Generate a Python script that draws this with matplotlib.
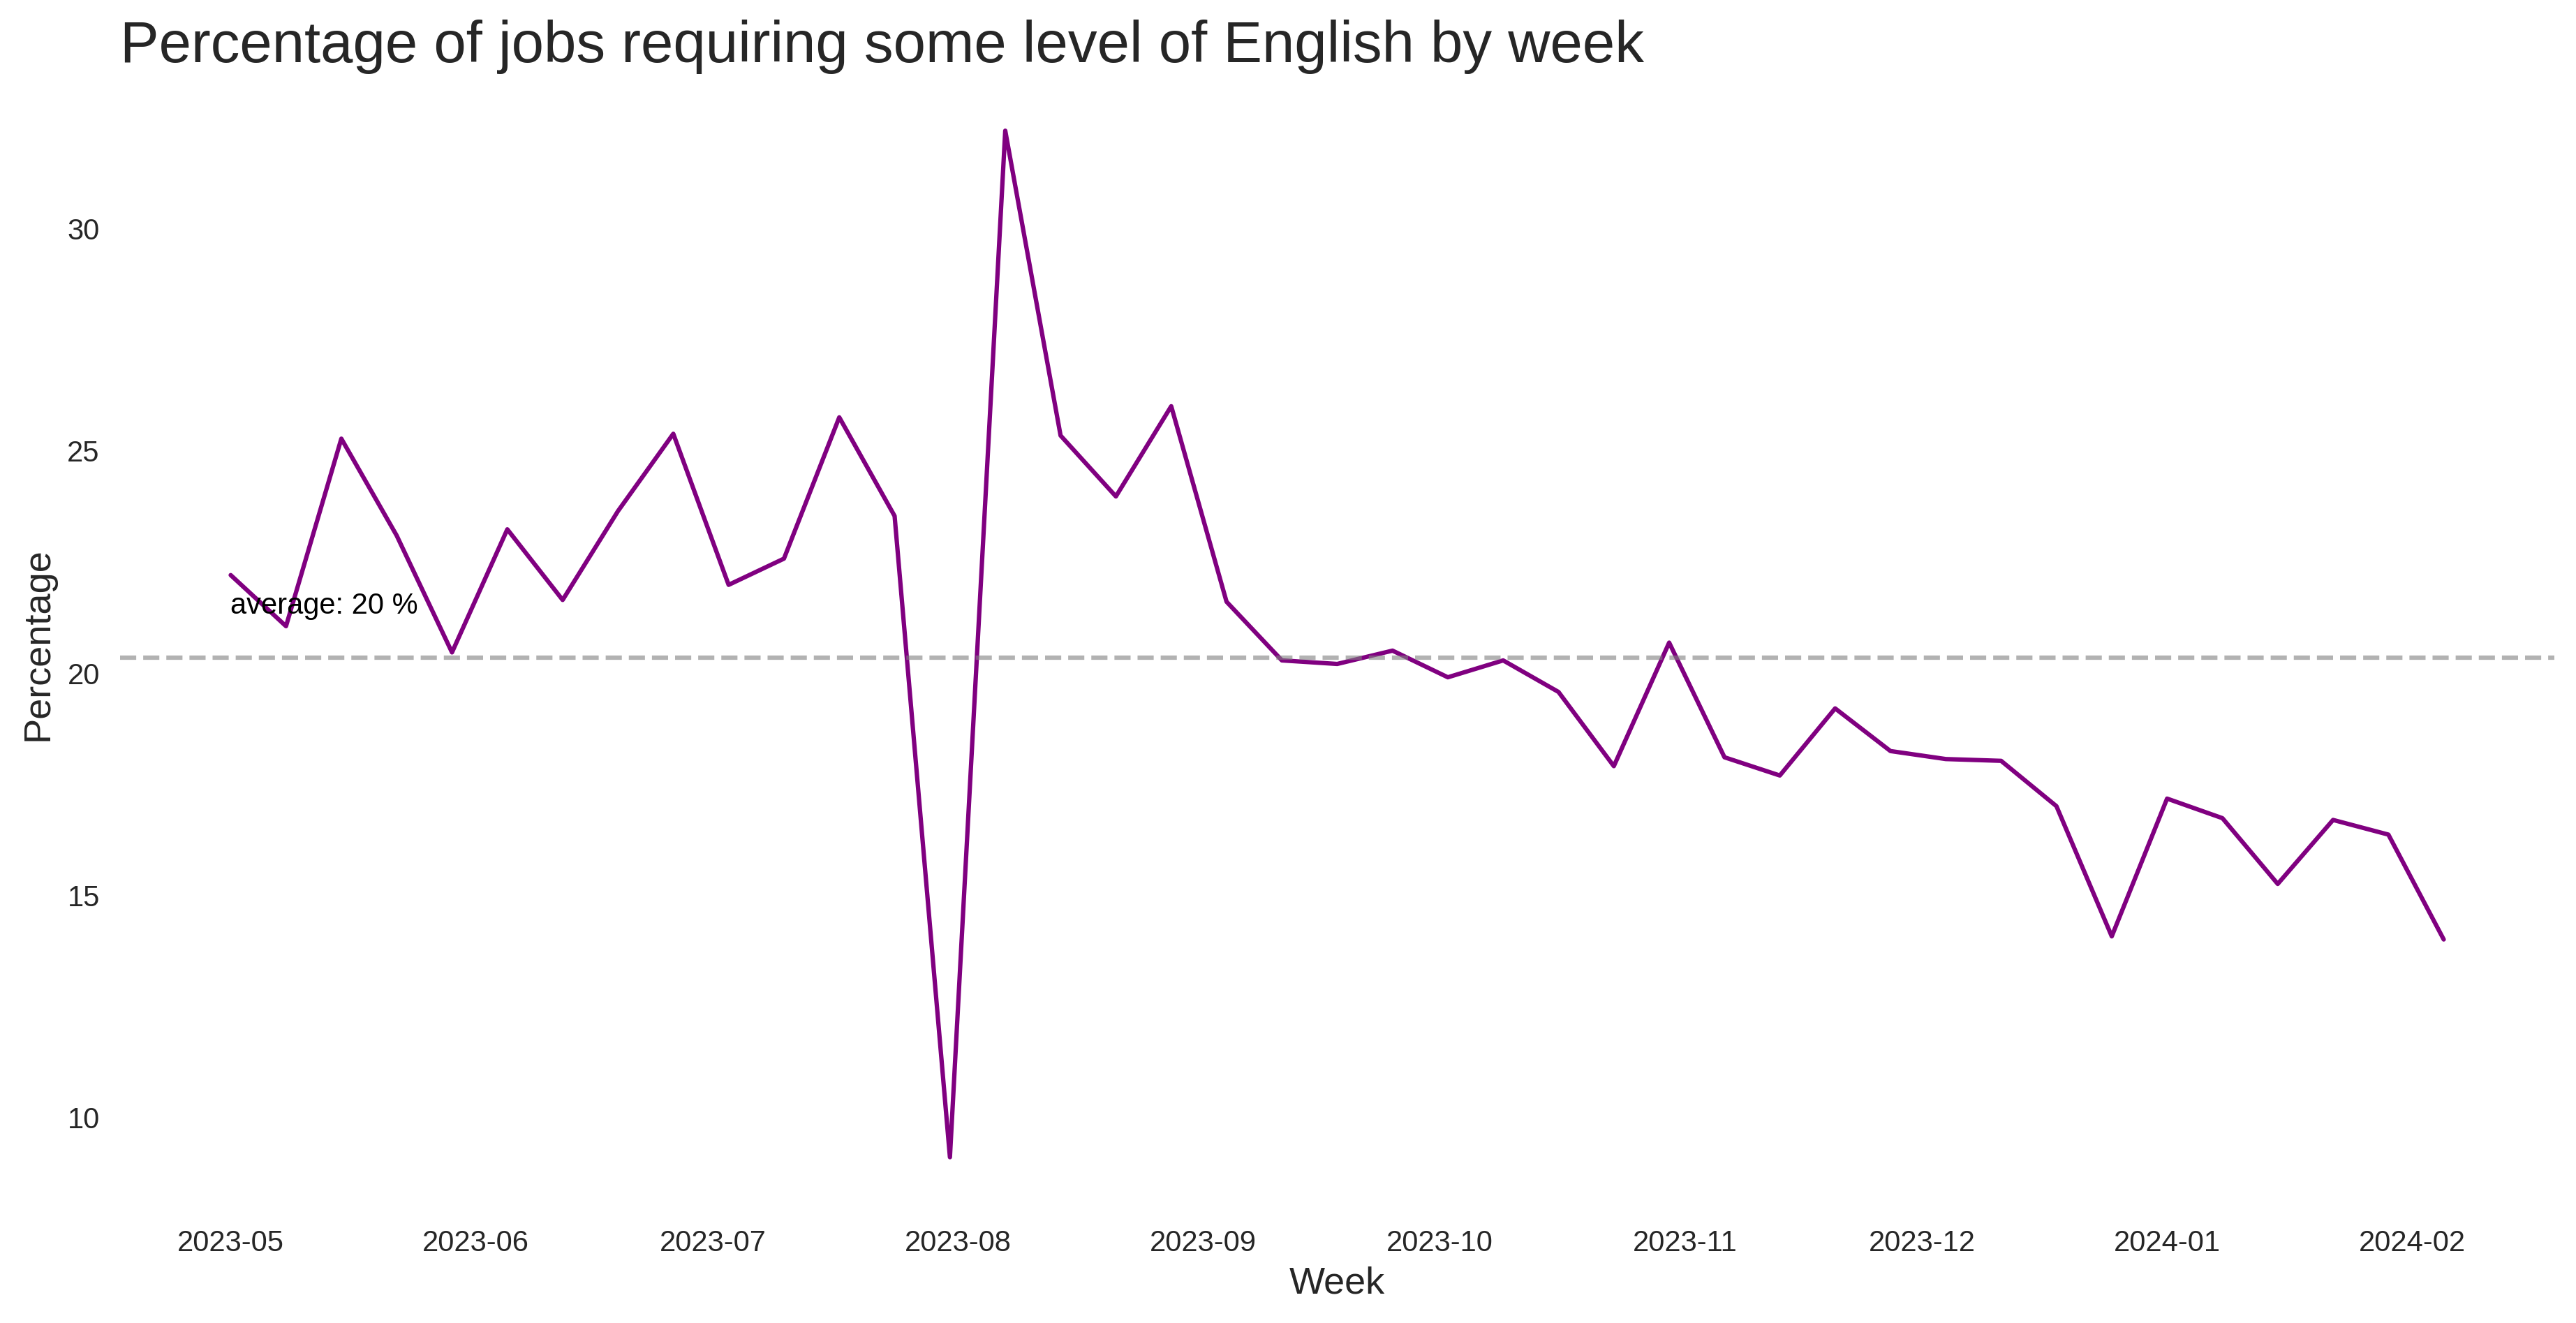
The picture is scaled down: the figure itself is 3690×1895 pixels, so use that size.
import numpy as np
import pandas as pd
import matplotlib
matplotlib.use("Agg")
import matplotlib.pyplot as plt
import matplotlib.dates as mdates
import seaborn as sns

# weekly share of job postings asking for English (%)
weeks = pd.date_range("2023-05-01", periods=41, freq="7D")
percentage = [
    22.20, 21.05, 25.27, 23.09, 20.46, 23.23, 21.64, 23.64, 25.38, 21.98,
    22.57, 25.75, 23.53, 9.10, 32.20, 25.34, 23.97, 26.00, 21.60, 20.28,
    20.20, 20.50, 19.90, 20.28, 19.57, 17.90, 20.68, 18.10, 17.69, 19.20,
    18.24, 18.06, 18.02, 17.00, 14.07, 17.17, 16.73, 15.25, 16.69, 16.36,
    14.00,
]

sns.set_style("white")
plt.rcParams["font.family"] = ["Liberation Sans", "DejaVu Sans"]

avg = np.mean(percentage)

fig, ax = plt.subplots(figsize=(3690 / 300, 1895.4 / 300), dpi=300)
fig.subplots_adjust(left=0.0466, right=0.9916, top=0.9398, bottom=0.0865)

ax.plot(weeks, percentage, color="purple", linewidth=1.5)
ax.axhline(avg, color="gray", linestyle="--", linewidth=1.5, alpha=0.6)
ax.text(weeks[0], avg + 1, f"average: {avg:.0f} %", color="black", fontsize=10)

ax.xaxis.set_major_locator(mdates.MonthLocator())
ax.xaxis.set_major_formatter(mdates.DateFormatter("%Y-%m"))
ax.tick_params(axis="both", labelsize=10, length=0, pad=7, colors="#262626")

ax.set_title("Percentage of jobs requiring some level of English by week",
             loc="left", fontsize=20, color="#262626")
ax.set_xlabel("Week", fontsize=13, color="#262626", labelpad=3)
ax.set_ylabel("Percentage", fontsize=13, color="#262626")

sns.despine(left=True, bottom=True)

fig.savefig("out.png", dpi=300)
